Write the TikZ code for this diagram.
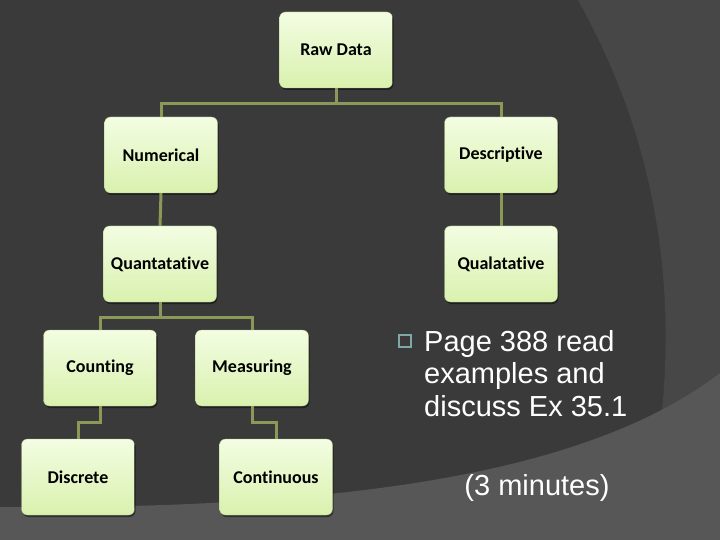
\documentclass[tikz,border=0pt]{standalone}
\usepackage{fontspec}
\setmainfont{Liberation Sans}
\newfontfamily\boxfont[Ligatures=NoCommon]{Carlito}
\usetikzlibrary{shadows}

\definecolor{slide}{HTML}{3A3A3A}
\definecolor{sweep}{HTML}{474747}
\definecolor{floor}{HTML}{575757}
\definecolor{leaf}{HTML}{F3FDE2}
\definecolor{leafdark}{HTML}{D9F1AE}
\definecolor{stem}{HTML}{8A9858}
\definecolor{tick}{HTML}{7FA8A8}

\tikzset{
  box/.style={rounded corners=6pt, minimum width=113pt, minimum height=76pt,
    top color=leaf, bottom color=leafdark, draw=leafdark!80!black, line width=0.3pt,
    drop shadow={shadow xshift=1pt, shadow yshift=-2pt, opacity=0.45, fill=black},
    font=\boxfont\bfseries\fontsize{18}{20}\selectfont, text=black},
  link/.style={draw=stem, line width=3pt}
}

\begin{document}
\begin{tikzpicture}[x=1pt,y=-1pt]

  % Background
  \fill[slide] (0,0) rectangle (720,540);
  \fill[sweep] (578,0) .. controls (645,120) and (680,260) .. (660,430) -- (720,430) -- (720,0) -- cycle;
  \fill[floor] (0,507) .. controls (380,510) and (600,465) .. (720,373) -- (720,540) -- (0,540) -- cycle;

  %Boxes
  \foreach \n/\x/\y/\t in {raw/336/50/Raw Data, num/161/155/Numerical, desc/501/155/Descriptive,
      quant/160/264/Quantatative, qual/501/264/Qualatative, count/100/368/Counting,
      meas/252/368/Measuring, disc/78/477/Discrete, cont/276/477/Continuous}
      {\node[box] (\n) at (\x,\y) {\t};}

  % Connectors
  \draw[link] (raw.south) -- ++(0,15) -| (num.north);
  \draw[link] (raw.south) -- ++(0,15) -| (desc.north);
  \draw[link] (num.south) -- (quant.north);
  \draw[link] (desc.south) -- (qual.north);
  \draw[link] (quant.south) -- ++(0,15) -| (count.north);
  \draw[link] (quant.south) -- ++(0,15) -| (meas.north);
  \draw[link] (count.south) -- ++(0,16) -| (disc.north);
  \draw[link] (meas.south) -- ++(0,16) -| (cont.north);

  % Note
  \node[draw=tick, line width=1.2pt, minimum size=12pt, inner sep=0pt] (bullet) at (405,341) {};
  \node[anchor=base west, align=left, inner sep=0pt, text=white,
        font=\fontsize{29}{32.5}\selectfont] (note) at (424,416)
        {Page 388 read\\examples and\\discuss Ex 35.1};
  \node[anchor=base, inner sep=0pt, text=white, font=\fontsize{29}{32.5}\selectfont]
        (time) at (537,495) {(3 minutes)};

\end{tikzpicture}
\end{document}
